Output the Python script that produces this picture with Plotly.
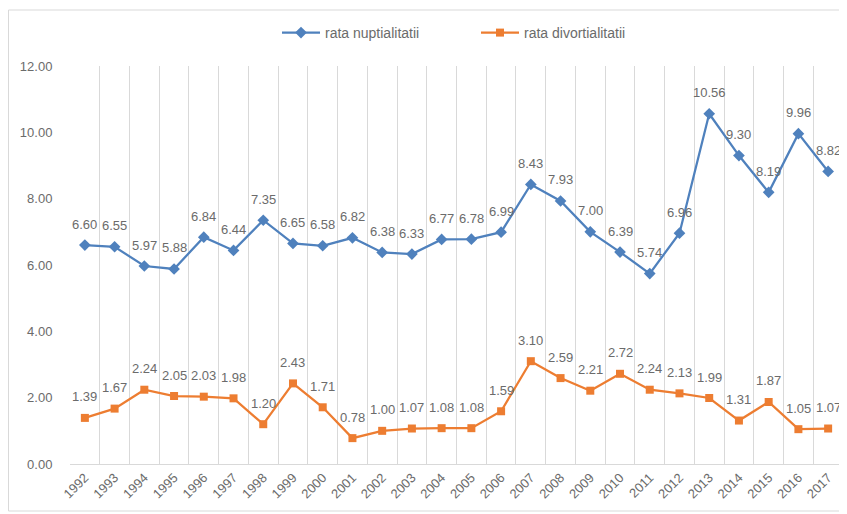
import plotly.graph_objects as go

years = [str(y) for y in range(1992, 2018)]
rata_nuptialitatii = [6.60, 6.55, 5.97, 5.88, 6.84, 6.44, 7.35, 6.65, 6.58, 6.82, 6.38, 6.33, 6.77,
                      6.78, 6.99, 8.43, 7.93, 7.00, 6.39, 5.74, 6.96, 10.56, 9.30, 8.19, 9.96, 8.82]
rata_divortialitatii = [1.39, 1.67, 2.24, 2.05, 2.03, 1.98, 1.20, 2.43, 1.71, 0.78, 1.00, 1.07, 1.08,
                        1.08, 1.59, 3.10, 2.59, 2.21, 2.72, 2.24, 2.13, 1.99, 1.31, 1.87, 1.05, 1.07]
y_ticks = [0, 2, 4, 6, 8, 10, 12]

FONT = "Liberation Sans"
GRAY = "#6B6B6B"
BLUE = "#4F81BD"
ORANGE = "#ED7D31"

fig = go.Figure()
fig.add_trace(go.Scatter(
    x=years, y=rata_nuptialitatii, name="rata nuptialitatii",
    mode="lines+markers",
    line=dict(color=BLUE, width=2.25),
    marker=dict(symbol="diamond", size=9, color=BLUE),
))
fig.add_trace(go.Scatter(
    x=years, y=rata_divortialitatii, name="rata divortialitatii",
    mode="lines+markers",
    line=dict(color=ORANGE, width=2.25),
    marker=dict(symbol="square", size=8, color=ORANGE),
))

annotations = []
for series in (rata_nuptialitatii, rata_divortialitatii):
    for i, v in enumerate(series):
        # category axis: position annotations by category index
        annotations.append(dict(x=i, y=v, xref="x", yref="y", text=f"{v:.2f}",
                                showarrow=False, yshift=21,
                                font=dict(color=GRAY, size=13, family=FONT)))

# the page body has an 8px margin, so the figure is drawn 8px smaller
W, H = 839, 506
L, R, T, B = 62, 4, 58, 50
pw, ph = W - L - R, H - T - B

fig.update_layout(
    width=W, height=H,
    margin=dict(l=L, r=R, t=T, b=B),
    paper_bgcolor="white", plot_bgcolor="white",
    font=dict(family=FONT, color=GRAY, size=13),
    showlegend=True,
    legend=dict(orientation="h", x=(269 - L) / pw, xanchor="left",
                y=(H - B - 25) / ph, yanchor="middle", itemwidth=38,
                entrywidth=146, entrywidthmode="pixels",
                font=dict(size=14, color=GRAY), bgcolor="rgba(0,0,0,0)"),
    xaxis=dict(type="category", tickson="boundaries", showgrid=True, gridcolor="#D9D9D9",
               gridwidth=1, tickangle=-45, ticks="", automargin=False,
               showline=True, linecolor="#D9D9D9", linewidth=1,
               tickfont=dict(size=13, color=GRAY), range=[-0.5, len(years) - 0.5]),
    yaxis=dict(range=[0, 12], tickvals=y_ticks, ticktext=[f"{v:.2f}" for v in y_ticks],
               showgrid=False, zeroline=False, ticks="outside", ticklen=14,
               tickcolor="rgba(0,0,0,0)", automargin=False,
               tickfont=dict(size=13, color=GRAY)),
    annotations=annotations,
    shapes=[dict(type="rect", xref="paper", yref="paper",
                 x0=(0.5 - L) / pw, x1=(838 - L) / pw,
                 y0=(H - B - 503) / ph, y1=(H - B - 2) / ph,
                 line=dict(color="#D9D9D9", width=1), fillcolor="rgba(0,0,0,0)", layer="below")],
)

fig.write_html("out.html")
